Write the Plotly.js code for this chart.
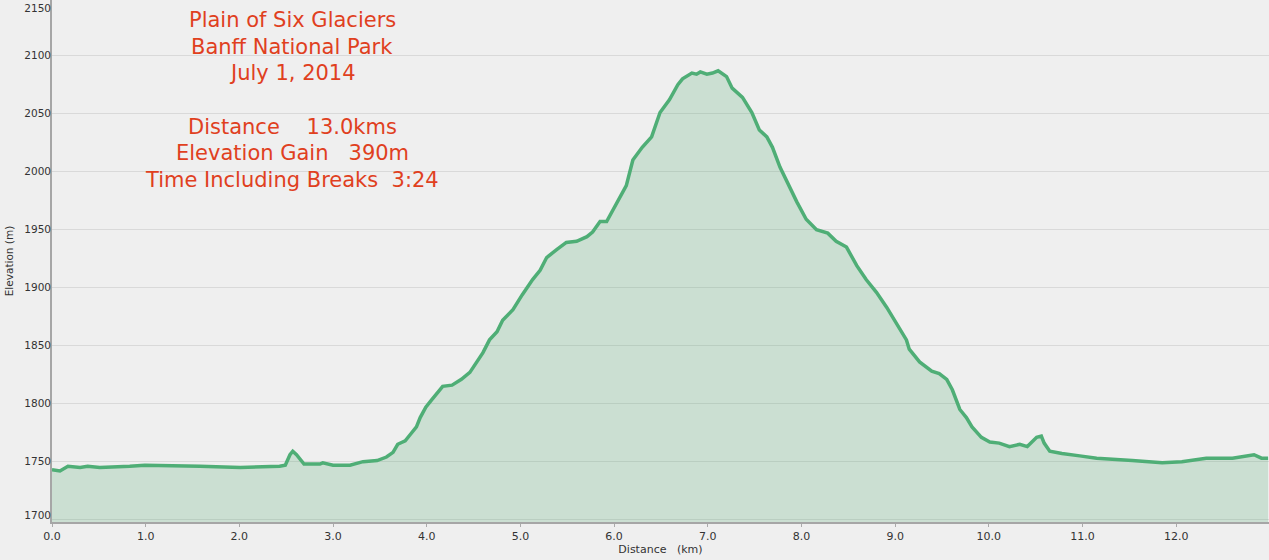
<!DOCTYPE html>
<html>
<head>
<meta charset="utf-8">
<script src="https://cdn.plot.ly/plotly-3.0.1.min.js"></script>
<style>html,body{margin:0;padding:0;background:#efefef;}#chart{width:1269px;height:560px;}</style>
</head>
<body>
<div id="chart"></div>
<script>
// Distance (km) along the trail
const distanceKm = [0.00,0.085,0.17,0.30,0.38,0.51,0.83,0.99,1.58,2.01,2.43,2.49,2.54,2.57,2.61,2.65,2.69,2.86,2.89,3.00,3.18,3.32,3.47,3.57,3.64,3.69,3.77,3.82,3.89,3.93,3.99,4.05,4.11,4.17,4.27,4.37,4.46,4.53,4.60,4.67,4.75,4.81,4.92,5.02,5.13,5.21,5.28,5.39,5.49,5.60,5.71,5.77,5.85,5.92,6.03,6.13,6.20,6.30,6.40,6.49,6.59,6.68,6.73,6.83,6.88,6.92,6.99,7.05,7.11,7.20,7.26,7.37,7.47,7.55,7.63,7.69,7.77,7.85,7.95,8.05,8.16,8.28,8.37,8.48,8.59,8.69,8.80,8.91,9.01,9.12,9.15,9.26,9.39,9.47,9.55,9.61,9.69,9.76,9.82,9.92,10.01,10.11,10.22,10.33,10.41,10.51,10.56,10.59,10.65,10.78,10.97,11.15,11.53,11.85,12.06,12.32,12.60,12.75,12.83,12.91,12.98];
// Elevation (m)
const elevationM = [1743,1742,1746,1745,1746,1745,1746,1747,1746,1745,1746,1747,1756,1759,1756,1752,1748,1748,1749,1747,1747,1750,1751,1754,1758,1765,1768,1773,1780,1788,1797,1803,1809,1815,1816,1821,1827,1835,1844,1855,1862,1872,1881,1894,1907,1915,1926,1933,1939,1940,1944,1948,1957,1957,1973,1988,2010,2021,2030,2051,2062,2075,2080,2085,2084,2086,2084,2085,2087,2082,2072,2064,2051,2036,2030,2021,2004,1990,1974,1959,1950,1947,1940,1935,1919,1907,1896,1883,1870,1855,1847,1836,1828,1826,1821,1812,1795,1788,1780,1771,1767,1766,1763,1765,1763,1771,1772,1766,1759,1757,1755,1753,1751,1749,1750,1753,1753,1755,1756,1753,1753];

const xTickVals = [0,1,2,3,4,5,6,7,8,9,10,11,12,13];
const yTickVals = [1700,1750,1800,1850,1900,1950,2000,2050,2100,2150];
const yTickText = ['1700','1750','1800','1850','1900','1950','2000','2050','2100','2150'];
// label positions nudged inside the plot for the two edge labels
const yLabelVals = [1704,1750,1800,1850,1900,1950,2000,2050,2100,2141];

const noteLines = ['Plain of Six Glaciers','Banff National Park','July 1, 2014','','Distance\u00a0\u00a0\u00a0\u00a013.0kms','Elevation Gain\u00a0\u00a0\u00a0390m','Time Including Breaks\u00a0\u00a03:24'];

const plotH = 522;
const annotations = [];
noteLines.forEach((t, i) => {
  if (!t) return;
  annotations.push({
    text: t, xref: 'paper', yref: 'paper',
    x: (292 - 52) / 1217, y: 1 - (20 + i * 26.7) / plotH,
    xanchor: 'center', yanchor: 'middle', showarrow: false,
    font: {family: 'DejaVu Sans, sans-serif', size: 21, color: '#e0401e'}
  });
});

const traces = [
  {
    x: distanceKm, y: elevationM, type: 'scatter', mode: 'lines',
    fill: 'tozeroy', fillcolor: 'rgba(76,170,110,0.22)',
    line: {color: '#4fae76', width: 3.5}, hoverinfo: 'x+y', showlegend: false
  },
  {x: [], y: [], yaxis: 'y2', type: 'scatter', mode: 'lines', showlegend: false, hoverinfo: 'skip'}
];

const layout = {
  width: 1269, height: 560,
  margin: {l: 52, r: 0, t: 0, b: 38, pad: 0},
  paper_bgcolor: '#efefef', plot_bgcolor: '#efefef',
  showlegend: false,
  font: {family: 'DejaVu Sans, Verdana, sans-serif', size: 10, color: '#333'},
  xaxis: {
    range: [0, 12.99], tickvals: xTickVals, tickformat: '.1f',
    showgrid: false, zeroline: false, showline: true, linecolor: '#a6a6a6', linewidth: 2,
    ticks: 'outside', ticklen: 3, tickcolor: '#aaa', tickwidth: 1,
    tickfont: {size: 11, color: '#333'}, automargin: false,
    title: {text: 'Distance\u00a0\u00a0\u00a0(km)', font: {size: 11, color: '#333'}, standoff: 2}
  },
  yaxis: {
    range: [1698, 2148], tickvals: yTickVals, showticklabels: false,
    showgrid: true, gridcolor: '#d9d9d9', gridwidth: 1, zeroline: false,
    showline: true, linecolor: '#a6a6a6', linewidth: 2, ticks: '', automargin: false
  },
  yaxis2: {
    overlaying: 'y', side: 'left', range: [1698, 2148],
    tickvals: yLabelVals, ticktext: yTickText, showgrid: false, zeroline: false,
    showline: false, ticks: '', tickfont: {size: 10.5, color: '#333'}, automargin: false,
    title: {text: 'Elevation (m)', font: {size: 10.5, color: '#333'}, standoff: 8}
  },
  annotations: annotations
};

Plotly.newPlot('chart', traces, layout, {displayModeBar: false, staticPlot: true});
</script>
</body>
</html>
